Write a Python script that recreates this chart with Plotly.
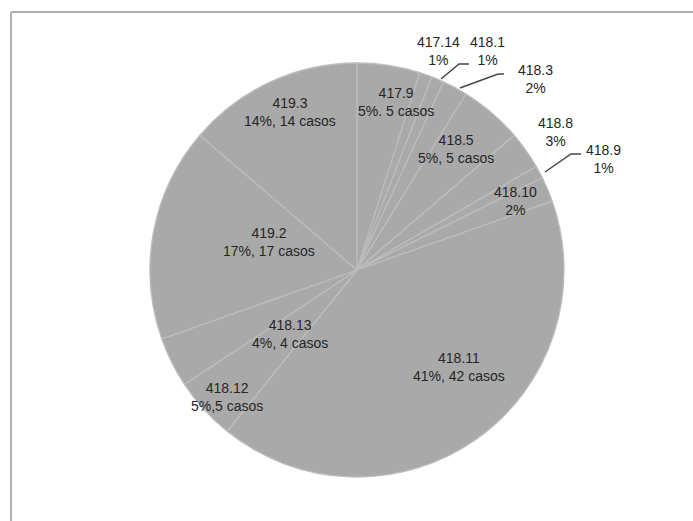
import plotly.graph_objects as go

# Cases per diagnosis code, listed clockwise from 12 o'clock
codes = ["417.9", "417.14", "418.1", "418.3", "418.5", "418.8", "418.9",
         "418.10", "418.11", "418.12", "418.13", "419.2", "419.3"]
cases = [5, 1, 1, 2, 5, 3, 1, 2, 42, 5, 4, 17, 14]
label_lines = ["5%. 5 casos", "1%", "1%", "2%", "5%, 5 casos", "3%", "1%",
               "2%", "41%, 42 casos", "5%,5 casos", "4%, 4 casos",
               "17%, 17 casos", "14%, 14 casos"]

W, H = 693, 521

# Label anchor points (pixel centres) for each code
label_pos = {
    "417.9": (396, 102), "417.14": (438, 51), "418.1": (488, 51),
    "418.3": (535, 79), "418.5": (456, 149), "418.8": (555, 132),
    "418.9": (603, 159), "418.10": (515, 201), "418.11": (459, 367),
    "418.12": (227, 397), "418.13": (290, 334), "419.2": (269, 242),
    "419.3": (290, 112),
}

# Leader lines for the small outer slices (pixel polylines)
leaders = [
    [(441, 79), (459, 64), (469, 64)],
    [(460, 88), (498, 74), (504, 74)],
    [(545, 172), (571, 154), (581, 154)],
]

def px(x, y):
    return x / W, 1 - y / H

cx, cy, r = 357, 270, 207
x0, y1 = px(cx - r, cy - r)
x1, y0 = px(cx + r, cy + r)

fig = go.Figure(go.Pie(
    labels=codes,
    values=cases,
    sort=False,
    direction="clockwise",
    rotation=0,
    textinfo="none",
    hoverinfo="label+value+percent",
    marker=dict(colors=["#a9a9a9"] * len(codes),
                line=dict(color="#bcbcbc", width=1.3)),
    domain=dict(x=[x0, x1], y=[y0, y1]),
    showlegend=False,
))

annotations = []
for code, line2 in zip(codes, label_lines):
    lx, ly = label_pos[code]
    ax, ay = px(lx, ly)
    annotations.append(dict(
        x=ax, y=ay, xref="paper", yref="paper",
        text=f"{code}<br>{line2}", showarrow=False,
        xanchor="center", yanchor="middle", align="center",
        font=dict(family="Liberation Sans, Arial, sans-serif", size=14,
                  color="#262626"),
    ))

shapes = []
for pts in leaders:
    path = "M " + " L ".join(f"{p[0]/W},{1 - p[1]/H}" for p in pts)
    shapes.append(dict(type="path", path=path, xref="paper", yref="paper",
                       line=dict(color="#454545", width=1.5)))

# Frame along the top and left edges
fx, fy = px(11, 12)
shapes.append(dict(type="line", xref="paper", yref="paper",
                   x0=fx, y0=fy, x1=1, y1=fy,
                   line=dict(color="#b0b0b0", width=2)))
shapes.append(dict(type="line", xref="paper", yref="paper",
                   x0=fx, y0=fy, x1=fx, y1=0,
                   line=dict(color="#b0b0b0", width=2)))

fig.update_layout(
    width=W, height=H,
    margin=dict(l=0, r=0, t=0, b=0),
    paper_bgcolor="white",
    plot_bgcolor="white",
    annotations=annotations,
    shapes=shapes,
)

fig.write_html("out.html")
